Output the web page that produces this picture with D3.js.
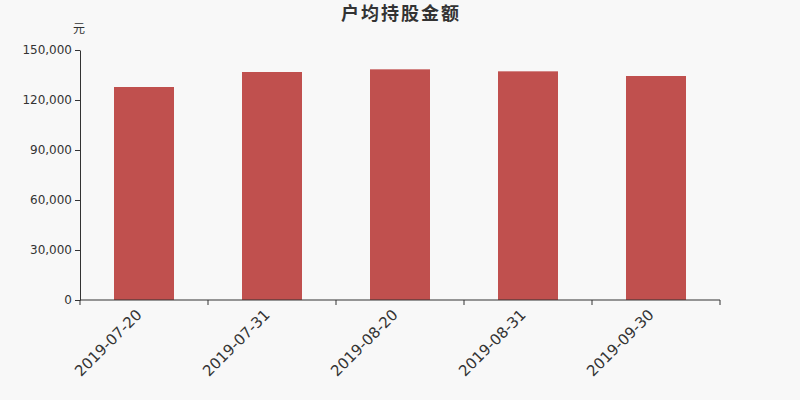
<!DOCTYPE html>
<html>
<head>
<meta charset="utf-8">
<script src="https://cdn.jsdelivr.net/npm/d3@7"></script>
<style>
  body { margin: 0; background: #f8f8f8; }
  svg { display: block; font-family: "DejaVu Sans", "Noto Sans CJK SC", sans-serif; }
</style>
</head>
<body>
<svg id="chart"></svg>
<script>
const dates = ['2019-07-20', '2019-07-31', '2019-08-20', '2019-08-31', '2019-09-30'];
const amounts = [127800, 136800, 138400, 137200, 134400];
const yTicks = [0, 30000, 60000, 90000, 120000, 150000];

const width = 800, height = 400;
const margin = {top: 50, right: 80, bottom: 100, left: 80};
const innerW = width - margin.left - margin.right;
const innerH = height - margin.top - margin.bottom;

const svg = d3.select('#chart').attr('width', width).attr('height', height);
svg.append('rect').attr('width', width).attr('height', height).attr('fill', '#f8f8f8');

const chart = svg.append('g').attr('transform', `translate(${margin.left},${margin.top})`);

const x = d3.scaleBand().domain(dates).range([0, innerW]);
const y = d3.scaleLinear().domain([0, 150000]).range([innerH, 0]);
const barW = 60;

chart.selectAll('.bar')
  .data(dates.map((d, i) => ({date: d, value: amounts[i]})))
  .join('rect')
  .attr('class', 'bar')
  .attr('x', d => x(d.date) + (x.bandwidth() - barW) / 2)
  .attr('width', barW)
  .attr('y', d => y(d.value))
  .attr('height', d => innerH - y(d.value))
  .attr('fill', '#c0504e');

// y axis
const yAxisG = chart.append('g')
  .call(d3.axisLeft(y).tickValues(yTicks).tickSize(5).tickSizeOuter(0).tickFormat(d3.format(',')));
yAxisG.select('.domain').attr('stroke', '#333');
yAxisG.selectAll('.tick line').attr('stroke', '#333');
yAxisG.selectAll('.tick text').attr('fill', '#333').attr('font-size', 12).attr('font-family', '"DejaVu Sans", sans-serif');

// x axis, ticks sit on the band edges
const xAxisG = chart.append('g').attr('transform', `translate(0,${innerH})`);
xAxisG.append('line').attr('x1', 0).attr('x2', innerW).attr('stroke', '#333');
const bounds = dates.map(d => x(d)).concat([innerW]);
xAxisG.selectAll('.xtick').data(bounds).join('line')
  .attr('class', 'xtick')
  .attr('x1', d => d).attr('x2', d => d)
  .attr('y1', 0).attr('y2', 5)
  .attr('stroke', '#333');
xAxisG.selectAll('.xlabel').data(dates).join('text')
  .attr('class', 'xlabel')
  .attr('transform', d => `translate(${x(d) + x.bandwidth() / 2 - 5},${12}) rotate(-45)`)
  .attr('text-anchor', 'end')
  .attr('dy', '0.35em')
  .attr('fill', '#333')
  .attr('font-size', 15)
  .text(d => d);

// unit
svg.append('text')
  .attr('x', 79).attr('y', 33)
  .attr('text-anchor', 'middle')
  .attr('font-size', 12)
  .attr('fill', '#333')
  .attr('font-family', '"Noto Sans CJK SC", sans-serif')
  .text('元');

// title
svg.append('text')
  .attr('x', width / 2 + 1).attr('y', 20)
  .attr('text-anchor', 'middle')
  .attr('font-size', 18)
  .attr('font-weight', 'bold')
  .attr('letter-spacing', 2)
  .attr('fill', '#333')
  .attr('font-family', '"Noto Sans CJK SC", sans-serif')
  .text('户均持股金额');
</script>
</body>
</html>
